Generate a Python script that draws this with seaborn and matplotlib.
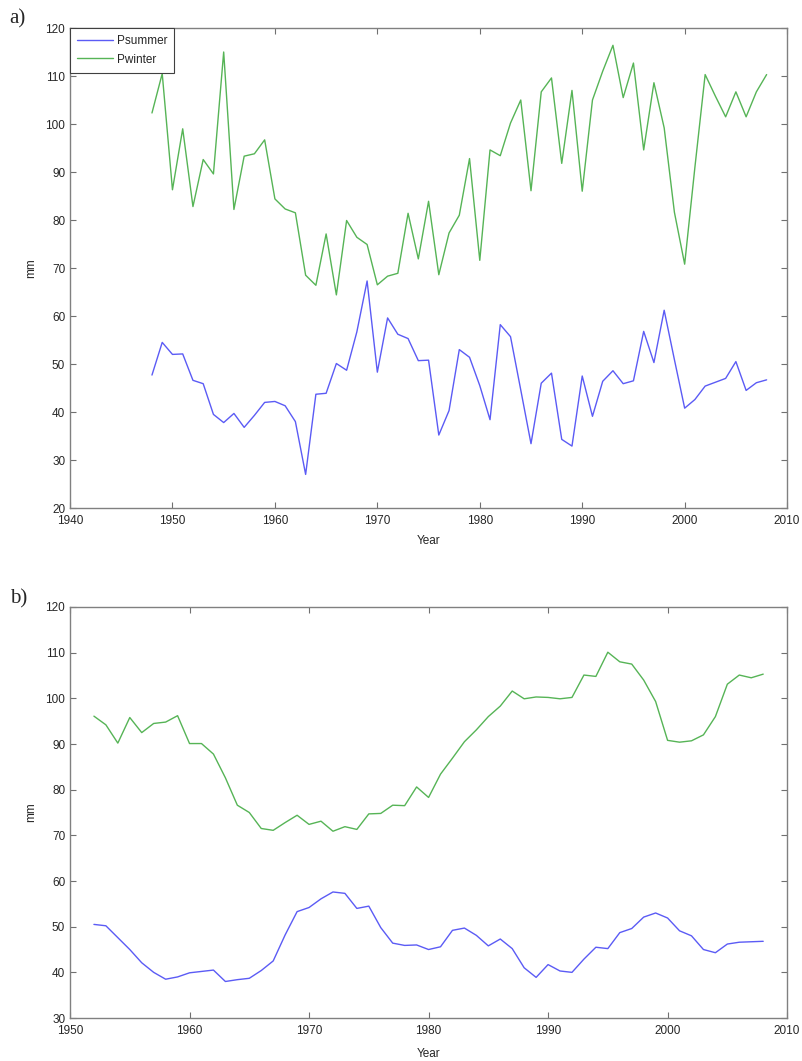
import numpy as np
import pandas as pd
import matplotlib
matplotlib.use('Agg')
import matplotlib.pyplot as plt
import seaborn as sns

# ── annual values (panel a) ──────────────────────────────────
years_a = list(range(1948, 2009))
summer_a = [47.7, 54.5, 52.0, 52.1, 46.6, 45.9, 39.5, 37.8, 39.7, 36.8,
            39.3, 42.0, 42.2, 41.3, 38.0, 27.0, 43.7, 43.9, 50.1, 48.7,
            56.7, 67.3, 48.3, 59.6, 56.2, 55.3, 50.7, 50.8, 35.2, 40.3,
            53.0, 51.4, 45.5, 38.4, 58.2, 55.7, 44.6, 33.4, 46.0, 48.1,
            34.3, 32.9, 47.5, 39.1, 46.4, 48.6, 45.9, 46.5, 56.8, 50.3,
            61.2, 50.9, 40.8, 42.6, 45.4, 46.2, 47.0, 50.5, 44.5, 46.1,
            46.7]
winter_a = [102.3, 110.5, 86.3, 99.0, 82.8, 92.6, 89.6, 115.0, 82.2, 93.3,
            93.8, 96.7, 84.4, 82.3, 81.5, 68.5, 66.4, 77.1, 64.4, 79.9,
            76.4, 74.9, 66.5, 68.3, 68.9, 81.4, 71.9, 83.9, 68.6, 77.3,
            81.0, 92.8, 71.6, 94.6, 93.4, 100.2, 105.0, 86.1, 106.7, 109.6,
            91.8, 107.0, 86.0, 105.0, 111.0, 116.4, 105.5, 112.7, 94.6, 108.6,
            99.2, 81.6, 70.8, 91.0, 110.3, 105.8, 101.5, 106.7, 101.5, 106.7,
            110.3]

# ── smoothed values (panel b) ────────────────────────────────
years_b = list(range(1952, 2009))
summer_b = [50.5, 50.2, 47.6, 45.0, 42.1, 40.0, 38.5, 39.0, 39.9, 40.2,
            40.5, 38.0, 38.4, 38.7, 40.4, 42.5, 48.2, 53.3, 54.2, 56.1,
            57.6, 57.3, 54.0, 54.5, 49.8, 46.4, 45.9, 46.0, 45.0, 45.6,
            49.2, 49.7, 48.1, 45.8, 47.3, 45.2, 41.0, 38.9, 41.7, 40.3,
            40.0, 42.9, 45.5, 45.2, 48.7, 49.6, 52.1, 53.0, 51.9, 49.1,
            48.0, 45.0, 44.3, 46.2, 46.6, 46.7, 46.8]
winter_b = [96.1, 94.2, 90.2, 95.8, 92.5, 94.5, 94.8, 96.2, 90.1, 90.1,
            87.8, 82.6, 76.6, 75.0, 71.5, 71.1, 72.8, 74.4, 72.4, 73.1,
            70.9, 71.9, 71.3, 74.7, 74.8, 76.6, 76.5, 80.6, 78.3, 83.4,
            86.9, 90.5, 93.1, 96.0, 98.3, 101.6, 99.9, 100.3, 100.2, 99.9,
            100.2, 105.1, 104.8, 110.1, 108.0, 107.5, 104.0, 99.3, 90.8, 90.4,
            90.7, 92.0, 96.0, 103.1, 105.1, 104.5, 105.3]

SERIES = ['Psummer', 'Pwinter']
PALETTE = {'Psummer': '#5b5bf5', 'Pwinter': '#56b456'}

df_a = pd.DataFrame({'Year': years_a * 2,
                     'mm': summer_a + winter_a,
                     'series': ['Psummer'] * len(years_a) + ['Pwinter'] * len(years_a)})
df_b = pd.DataFrame({'Year': years_b * 2,
                     'mm': summer_b + winter_b,
                     'series': ['Psummer'] * len(years_b) + ['Pwinter'] * len(years_b)})

sns.set_style('white')
plt.rcParams['font.family'] = ['Liberation Sans', 'DejaVu Sans']

fig = plt.figure(figsize=(8.03, 10.61), dpi=100)
ax_a = fig.add_axes([0.0872, 0.5212, 0.893, 0.4524])
ax_b = fig.add_axes([0.0872, 0.0405, 0.893, 0.3874])

sns.lineplot(data=df_a, x='Year', y='mm', hue='series', hue_order=SERIES,
             palette=PALETTE, linewidth=1.0, ax=ax_a)
sns.lineplot(data=df_b, x='Year', y='mm', hue='series', hue_order=SERIES,
             palette=PALETTE, linewidth=1.0, ax=ax_b, legend=False)


def style_axes(ax, xlim, ylim, xpad):
    ax.set_xlim(*xlim)
    ax.set_ylim(*ylim)
    ax.set_xticks(np.arange(xlim[0], xlim[1] + 1, 10))
    ax.set_yticks(np.arange(ylim[0], ylim[1] + 1, 10))
    ax.tick_params(direction='in', length=4, width=0.8, color='#707070',
                   labelsize=8.5, labelcolor='#262626',
                   top=True, right=True, bottom=True, left=True)
    ax.tick_params(axis='x', pad=5)
    for spine in ax.spines.values():
        spine.set_edgecolor('#808080')
        spine.set_linewidth(1.0)
    ax.set_xlabel('Year', fontsize=8.5, color='#262626', labelpad=xpad)
    ax.set_ylabel('mm', fontsize=8.5, color='#262626', labelpad=6)


style_axes(ax_a, (1940, 2010), (20, 120), xpad=6)
style_axes(ax_b, (1950, 2010), (30, 120), xpad=8)

leg = ax_a.legend(title=None, loc='upper left', borderaxespad=0, fontsize=8.5,
                  fancybox=False, framealpha=1, handlelength=3.0,
                  handletextpad=0.35, borderpad=0.6, labelspacing=0.55)
leg.get_frame().set_edgecolor('#404040')
leg.get_frame().set_linewidth(0.8)

fig.text(0.012, 0.982, 'a)', family='Liberation Serif', fontsize=15, va='center')
fig.text(0.012, 0.436, 'b)', family='Liberation Serif', fontsize=15, va='center')

plt.savefig('out.png', dpi=100, facecolor='white')
plt.close()
